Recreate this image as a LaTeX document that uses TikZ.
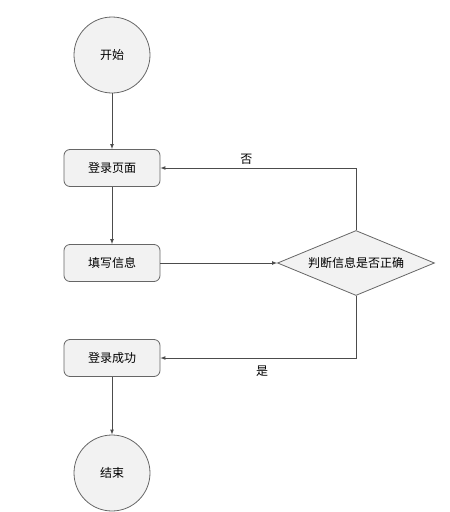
\documentclass[tikz,border=0pt]{standalone}
\usepackage{fontspec}
\newfontfamily\cjk{Noto Sans CJK SC}
\usetikzlibrary{shapes.geometric}
\usetikzlibrary{arrows}

\tikzset{
  base/.style={draw=black!60, fill=black!5, line width=0.8pt, font=\cjk\fontsize{12}{14}\selectfont},
  term/.style={base, circle, minimum size=76pt, inner sep=0pt},
  box/.style={base, rectangle, rounded corners=6pt, minimum width=96pt, minimum height=37pt},
  judge/.style={base, diamond, minimum width=157pt, minimum height=65pt, inner sep=0pt, aspect=2.4},
  link/.style={->, >=latex, draw=black!70, line width=0.7pt}
}

\begin{document}
\begin{tikzpicture}[x=1pt, y=-1pt]
      \useasboundingbox (0,0) rectangle (450,512);
      \node [term] (start) at (112,55) {开始};
      \node [box] (login) at (112,168) {登录页面};
      \node [box] (fill) at (112,263) {填写信息};
      \node [judge] (check) at (356,263) {判断信息是否正确};
      \node [box] (ok) at (112,358) {登录成功};
      \node [term] (end) at (112,473) {结束};

      \draw [link] (start) -- (login);
      \draw [link] (login) -- (fill);
      \draw [link] (fill) -- (check);
      \draw [link] (check.north) |- (login.east)
            node [pos=0.78, above, font=\cjk\fontsize{12}{14}\selectfont] {否};
      \draw [link] (check.south) |- (ok.east)
            node [pos=0.74, below=4pt, font=\cjk\fontsize{12}{14}\selectfont] {是};
      \draw [link] (ok) -- (end);
    \end{tikzpicture}
\end{document}
